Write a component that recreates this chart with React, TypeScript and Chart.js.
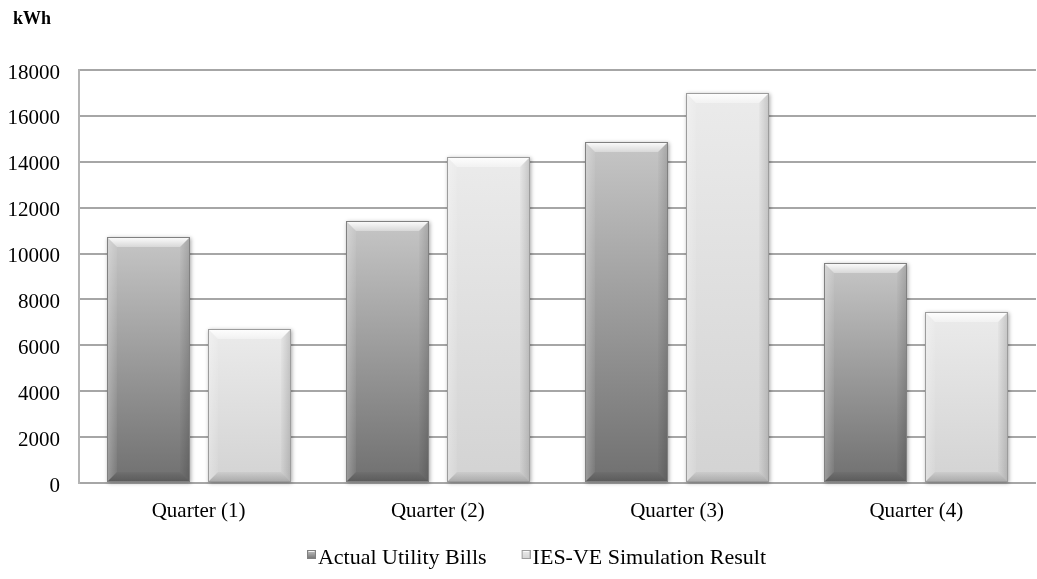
import React, { useEffect, useRef } from "react";
import { Chart, registerables } from "chart.js";

Chart.register(...registerables);

const categories = ["Quarter (1)", "Quarter (2)", "Quarter (3)", "Quarter (4)"];
const actualBills = [10700, 11400, 14850, 9600];
const simulationResult = [6700, 14200, 17000, 7450];
const seriesNames = ["Actual Utility Bills", "IES-VE Simulation Result"];
const yMin = 0;
const yMax = 18000;
const yStep = 2000;
const unitLabel = "kWh";

const FONT = "'Liberation Serif', 'Times New Roman', serif";

type Pal = { top: string; bottom: string; border: string };
const palettes: Pal[] = [
  { top: "#c6c6c6", bottom: "#707070", border: "#808080" },
  { top: "#ebebeb", bottom: "#d3d3d3", border: "#9c9c9c" },
];

function drawBevel(ctx: CanvasRenderingContext2D, x0: number, y0: number, x1: number, y1: number, pal: Pal) {
  const w = x1 - x0;
  const h = y1 - y0;
  if (w <= 0 || h <= 0) return;
  const b = Math.max(1, Math.min(10, w / 4, h / 4));
  ctx.save();
  ctx.shadowColor = "rgba(0,0,0,0.35)";
  ctx.shadowBlur = 4;
  ctx.shadowOffsetX = 1;
  ctx.shadowOffsetY = 1;
  const g = ctx.createLinearGradient(0, y0, 0, y1);
  g.addColorStop(0, pal.top);
  g.addColorStop(1, pal.bottom);
  ctx.fillStyle = g;
  ctx.fillRect(x0, y0, w, h);
  ctx.restore();

  ctx.save();
  const gt = ctx.createLinearGradient(0, y0, 0, y0 + b);
  gt.addColorStop(0, "rgba(255,255,255,0.97)");
  gt.addColorStop(1, "rgba(255,255,255,0.35)");
  ctx.fillStyle = gt;
  ctx.beginPath();
  ctx.moveTo(x0, y0);
  ctx.lineTo(x1, y0);
  ctx.lineTo(x1 - b, y0 + b);
  ctx.lineTo(x0 + b, y0 + b);
  ctx.closePath();
  ctx.fill();
  const gb = ctx.createLinearGradient(0, y1 - b, 0, y1);
  gb.addColorStop(0, "rgba(0,0,0,0.04)");
  gb.addColorStop(1, "rgba(0,0,0,0.2)");
  ctx.fillStyle = gb;
  ctx.beginPath();
  ctx.moveTo(x0, y1);
  ctx.lineTo(x1, y1);
  ctx.lineTo(x1 - b, y1 - b);
  ctx.lineTo(x0 + b, y1 - b);
  ctx.closePath();
  ctx.fill();
  const gl = ctx.createLinearGradient(x0, 0, x0 + b, 0);
  gl.addColorStop(0, "rgba(255,255,255,0.3)");
  gl.addColorStop(1, "rgba(255,255,255,0.05)");
  ctx.fillStyle = gl;
  ctx.beginPath();
  ctx.moveTo(x0, y0);
  ctx.lineTo(x0 + b, y0 + b);
  ctx.lineTo(x0 + b, y1 - b);
  ctx.lineTo(x0, y1);
  ctx.closePath();
  ctx.fill();
  const gr = ctx.createLinearGradient(x1 - b, 0, x1, 0);
  gr.addColorStop(0, "rgba(0,0,0,0.02)");
  gr.addColorStop(1, "rgba(0,0,0,0.16)");
  ctx.fillStyle = gr;
  ctx.beginPath();
  ctx.moveTo(x1, y0);
  ctx.lineTo(x1 - b, y0 + b);
  ctx.lineTo(x1 - b, y1 - b);
  ctx.lineTo(x1, y1);
  ctx.closePath();
  ctx.fill();
  ctx.strokeStyle = pal.border;
  ctx.lineWidth = 1;
  ctx.strokeRect(x0 + 0.5, y0 + 0.5, w - 1, h - 1);
  ctx.restore();
}

function makeLegendMarker(pal: Pal): HTMLCanvasElement {
  const c = document.createElement("canvas");
  c.width = 19;
  c.height = 24;
  const ctx = c.getContext("2d")!;
  const x0 = 10, y0 = 4, x1 = 19, y1 = 13;
  const g = ctx.createLinearGradient(0, y0, 0, y1);
  g.addColorStop(0, pal.top);
  g.addColorStop(1, pal.bottom);
  ctx.fillStyle = g;
  ctx.fillRect(x0, y0, x1 - x0, y1 - y0);
  ctx.fillStyle = "rgba(255,255,255,0.8)";
  ctx.beginPath();
  ctx.moveTo(x0, y0);
  ctx.lineTo(x1, y0);
  ctx.lineTo(x1 - 2, y0 + 2);
  ctx.lineTo(x0 + 2, y0 + 2);
  ctx.closePath();
  ctx.fill();
  ctx.strokeStyle = pal.border;
  ctx.lineWidth = 1;
  ctx.strokeRect(x0 + 0.5, y0 + 0.5, x1 - x0 - 1, y1 - y0 - 1);
  return c;
}

const bevelPlugin = {
  id: "bevelBars",
  beforeDatasetDraw(chart: any, args: any) {
    const ctx = chart.ctx as CanvasRenderingContext2D;
    const meta = args.meta;
    const pal = palettes[args.index % palettes.length];
    meta.data.forEach((el: any) => {
      const p = el.getProps(["x", "y", "base", "width"], true);
      const x0 = Math.round(p.x - p.width / 2);
      const x1 = Math.round(p.x + p.width / 2);
      const y0 = Math.round(Math.min(p.y, p.base));
      const y1 = Math.round(Math.max(p.y, p.base));
      drawBevel(ctx, x0, y0, x1, y1, pal);
    });
    return false;
  },
};

const unitPlugin = {
  id: "unitLabel",
  afterDraw(chart: any) {
    const ctx = chart.ctx as CanvasRenderingContext2D;
    ctx.save();
    ctx.font = `bold 18px ${FONT}`;
    ctx.fillStyle = "#000";
    ctx.textBaseline = "alphabetic";
    ctx.textAlign = "left";
    ctx.fillText(unitLabel, 13, 24);
    ctx.restore();
  },
};

export default function App() {
  const ref = useRef<HTMLCanvasElement | null>(null);
  useEffect(() => {
    if (!ref.current) return;
    const markers = palettes.map(makeLegendMarker);
    const chart = new Chart(ref.current, {
      type: "bar",
      data: {
        labels: categories,
        datasets: [
          {
            label: seriesNames[0],
            data: actualBills,
            backgroundColor: "#a0a0a0",
            pointStyle: markers[0] as any,
          },
          {
            label: seriesNames[1],
            data: simulationResult,
            backgroundColor: "#dedede",
            pointStyle: markers[1] as any,
          },
        ],
      },
      options: {
        responsive: false,
        animation: false,
        layout: { padding: { top: 70, left: 36, right: 1, bottom: 0 } },
        datasets: {
          bar: { categoryPercentage: 0.845, barPercentage: 0.82 },
        },
        scales: {
          x: {
            afterFit: (s: any) => {
              s.height = 30;
              s._computeLabelArea = () => undefined;
            },
            grid: { display: false, drawTicks: false },
            border: { display: false },
            ticks: { color: "#000", font: { family: FONT, size: 21 }, padding: 16 },
          },
          y: {
            min: yMin,
            max: yMax,
            afterFit: (s: any) => {
              s.width = 43;
              s._computeLabelArea = () => undefined;
            },
            grid: { color: "#a6a6a6", lineWidth: 2, drawTicks: false },
            border: { display: true, color: "#b4b4b4", width: 2 },
            ticks: {
              stepSize: yStep,
              color: "#000",
              font: { family: FONT, size: 21 },
              padding: 19,
              labelOffset: 3,
              callback: (v: any) => String(v),
            },
          },
        } as any,
        plugins: {
          tooltip: { enabled: false },
          legend: {
            position: "bottom",
            labels: {
              usePointStyle: true,
              pointStyleWidth: 1,
              color: "#000",
              font: { family: FONT, size: 22 },
              padding: 34,
            },
          },
        },
      },
      plugins: [bevelPlugin, unitPlugin],
    });
    return () => chart.destroy();
  }, []);
  return (
    <div style={{ position: "absolute", left: 0, top: 0, width: 1037, height: 579, background: "#fff", overflow: "hidden" }}>
      <canvas ref={ref} width={1037} height={579} style={{ display: "block" }} />
    </div>
  );
}
